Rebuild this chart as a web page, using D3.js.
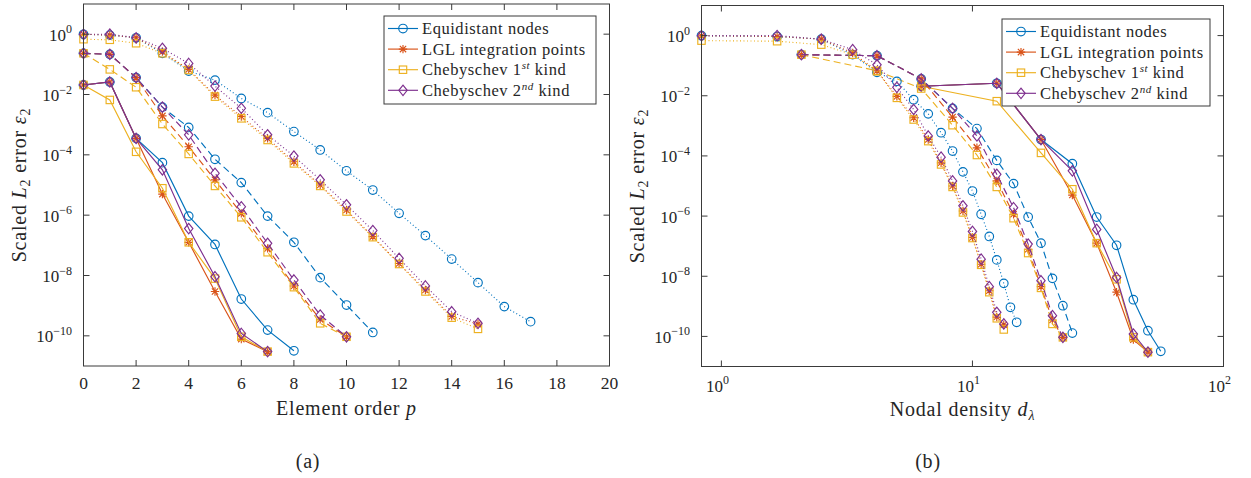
<!DOCTYPE html>
<html><head><meta charset="utf-8">
<script src="https://cdn.jsdelivr.net/npm/d3@7"></script>
<style>
body{margin:0;background:#fff;}
svg text{font-family:"Liberation Serif","Times New Roman",serif;fill:#262626;}
</style></head>
<body><svg id="c" width="1251" height="478"></svg>
<script>
// ---------- data ----------
const methods = ["Equidistant nodes","LGL integration points","Chebyschev 1st kind","Chebyschev 2nd kind"];
const colors = ["#0072BD","#D95319","#EDB120","#7E2F8E"];
const markers = ["circle","star","square","diamond"];

// element order p for each mesh (solid / dashed / dotted)
const pSolidEq = [0,1,2,3,4,5,6,7,8];
const pSolid = [0,1,2,3,4,5,6,7];
const pDashedEq = [0,1,2,3,4,5,6,7,8,9,10,11];
const pDashed = [0,1,2,3,4,5,6,7,8,9,10];
const pDottedEq = [0,1,2,3,4,5,6,7,8,9,10,11,12,13,14,15,16,17];
const pDotted = [0,1,2,3,4,5,6,7,8,9,10,11,12,13,14,15];

// nodal density d_lambda for each mesh
const dSolid = [6.25,12.5,18.75,25,31.25,37.5,43.75,50,56.25];
const dDashed = [2.083,4.167,6.25,8.333,10.42,12.5,14.58,16.67,18.75,20.83,22.92,25];
const dDotted = [0.8333,1.667,2.5,3.333,4.167,5,5.833,6.667,7.5,8.333,9.167,10,10.83,11.67,12.5,13.33,14.17,15];

// scaled L2 errors
const eqSolid   = [2.07e-2,2.6e-2,3.5e-4,5.5e-5,9.3e-7,1.07e-7,1.66e-9,1.55e-10,3.2e-11];
const lglSolid  = [2.07e-2,2.6e-2,3.5e-4,5.0e-6,1.26e-7,2.95e-9,7.8e-11,3.0e-11];
const ch1Solid  = [2.07e-2,6.6e-3,1.26e-4,7.8e-6,1.26e-7,7.9e-9,9.3e-11,3.0e-11];
const ch2Solid  = [2.07e-2,2.6e-2,3.5e-4,3.2e-5,3.6e-7,9.1e-9,1.2e-10,3.0e-11];

const eqDashed  = [0.232,0.214,3.63e-2,3.8e-3,8.1e-4,7.1e-5,1.2e-5,9.3e-7,1.26e-7,8.5e-9,1.05e-9,1.29e-10];
const lglDashed = [0.232,0.214,3.63e-2,1.95e-3,1.86e-4,1.48e-5,1.15e-6,7.9e-8,4.5e-9,3.5e-10,9.3e-11];
const ch1Dashed = [0.232,6.8e-2,1.74e-2,1.05e-3,1.07e-4,9.3e-6,8.5e-7,5.9e-8,4.1e-9,2.6e-10,9.3e-11];
const ch2Dashed = [0.232,0.214,3.63e-2,3.8e-3,4.6e-4,2.45e-5,1.9e-6,1.17e-7,7.1e-9,4.9e-10,9.3e-11];

const eqDotted  = [0.99,0.93,0.76,0.232,6.0e-2,3.0e-2,7.4e-3,2.5e-3,5.9e-4,1.45e-4,2.95e-5,6.8e-6,1.15e-6,2.1e-7,3.5e-8,5.8e-9,9.3e-10,2.95e-10];
const lglDotted = [0.99,0.93,0.76,0.263,6.8e-2,9.5e-3,1.86e-3,3.5e-4,5.9e-5,1.0e-5,1.48e-6,1.95e-7,2.5e-8,3.3e-9,4.4e-10,2.45e-10];
const ch1Dotted = [0.68,0.65,0.50,0.232,6.5e-2,8.5e-3,1.62e-3,3.1e-4,5.2e-5,9.3e-6,1.32e-6,1.86e-7,2.4e-8,2.95e-9,4.0e-10,1.7e-10];
const ch2Dotted = [0.99,1.0,0.76,0.34,0.107,1.9e-2,3.5e-3,4.6e-4,9.1e-5,1.48e-5,2.2e-6,3.1e-7,3.7e-8,4.5e-9,6.3e-10,2.6e-10];

const xTicksA = [0,2,4,6,8,10,12,14,16,18,20];
const xTicksB = [1,10,100];
const yTicks = [1e0,1e-2,1e-4,1e-6,1e-8,1e-10];

// ---------- build series ----------
const dashStyles = {solid:null, dashed:"7,4", dotted:"1,2.5"};
const groups = [
  {style:"solid",  p:[pSolidEq,pSolid,pSolid,pSolid], d:dSolid, v:[eqSolid,lglSolid,ch1Solid,ch2Solid]},
  {style:"dashed", p:[pDashedEq,pDashed,pDashed,pDashed], d:dDashed, v:[eqDashed,lglDashed,ch1Dashed,ch2Dashed]},
  {style:"dotted", p:[pDottedEq,pDotted,pDotted,pDotted], d:dDotted, v:[eqDotted,lglDotted,ch1Dotted,ch2Dotted]}
];
const series = [];
groups.forEach(g => {
  for (let m=0;m<4;m++){
    series.push({m, style:g.style,
      a: g.p[m].map((p,i)=>({x:p, y:g.v[m][i]})),
      b: g.p[m].map((p,i)=>({x:g.d[i], y:g.v[m][i]}))});
  }
});

const svg = d3.select("#c");
const axisCol = "#3a3a3a";

function drawMarker(g, type, x, y, col){
  if (type==="circle") g.append("circle").attr("cx",x).attr("cy",y).attr("r",4.3).attr("fill","none").attr("stroke",col).attr("stroke-width",1.15);
  else if (type==="square") g.append("rect").attr("x",x-3.7).attr("y",y-3.7).attr("width",7.4).attr("height",7.4).attr("fill","none").attr("stroke",col).attr("stroke-width",1.15);
  else if (type==="diamond") g.append("path").attr("d",`M${x},${y-5.2}L${x+4.2},${y}L${x},${y+5.2}L${x-4.2},${y}Z`).attr("fill","none").attr("stroke",col).attr("stroke-width",1.15);
  else if (type==="star"){
    const s=4.2;
    g.append("path").attr("d",`M${x-s},${y}H${x+s}M${x},${y-s}V${y+s}M${x-s*0.75},${y-s*0.75}L${x+s*0.75},${y+s*0.75}M${x-s*0.75},${y+s*0.75}L${x+s*0.75},${y-s*0.75}`)
      .attr("stroke",col).attr("stroke-width",1.15).attr("fill","none");
  }
}

function pow10Label(sel, exp, x, y, anchor){
  const t = sel.append("text").attr("x",x).attr("y",y).attr("text-anchor",anchor).attr("font-size",17);
  t.append("tspan").text("10");
  t.append("tspan").attr("dy",-7.5).attr("font-size",12).text(exp<0 ? "\u2212"+(-exp) : String(exp));
  return t;
}

function panel(opt){
  const {x, y0, y1, key, xTicks, xLabel, logX, legendPos, yLabelX, sub} = opt;
  const y = d3.scaleLog().domain([1e-11,1e1]).range([y1,y0]);
  const g = svg.append("g");
  const [xl,xr] = x.range();
  // series
  series.forEach(s=>{
    const pts = s[key];
    const line = d3.line().x(d=>x(d.x)).y(d=>y(d.y));
    g.append("path").attr("d",line(pts)).attr("fill","none").attr("stroke",colors[s.m])
      .attr("stroke-width",1.15).attr("stroke-dasharray",dashStyles[s.style]);
    const mg = g.append("g");
    pts.forEach(d=>drawMarker(mg, markers[s.m], x(d.x), y(d.y), colors[s.m]));
  });
  // box
  g.append("rect").attr("x",xl).attr("y",y0).attr("width",xr-xl).attr("height",y1-y0)
    .attr("fill","none").attr("stroke",axisCol).attr("stroke-width",1);
  const tl = 6;
  xTicks.forEach(t=>{
    const px = x(t);
    g.append("line").attr("x1",px).attr("x2",px).attr("y1",y1).attr("y2",y1-tl).attr("stroke",axisCol);
    g.append("line").attr("x1",px).attr("x2",px).attr("y1",y0).attr("y2",y0+tl).attr("stroke",axisCol);
    if (logX) pow10Label(g, Math.round(Math.log10(t)), px-4, y1+25, "middle");
    else g.append("text").attr("x",px).attr("y",y1+23).attr("text-anchor","middle").attr("font-size",17.5).text(t);
  });
  yTicks.forEach(t=>{
    const py = y(t);
    g.append("line").attr("x1",xl).attr("x2",xl+tl).attr("y1",py).attr("y2",py).attr("stroke",axisCol);
    g.append("line").attr("x1",xr).attr("x2",xr-tl).attr("y1",py).attr("y2",py).attr("stroke",axisCol);
    const e = Math.round(Math.log10(t));
    pow10Label(g, e, xl-11.5, py+6.5, "end");
  });
  // x label
  const xt = g.append("text").attr("x",(xl+xr)/2).attr("y",y1+49).attr("text-anchor","middle").attr("font-size",20).attr("letter-spacing",0.8);
  xt.append("tspan").text(xLabel[0]);
  xt.append("tspan").attr("font-style","italic").text(xLabel[1]);
  if (xLabel[2]) xt.append("tspan").attr("font-style","italic").attr("font-size",14).attr("dy",4).text(xLabel[2]);
  // y label
  const yc = (y0+y1)/2;
  const yt = g.append("text").attr("transform",`translate(${yLabelX},${yc}) rotate(-90)`).attr("text-anchor","middle").attr("font-size",20).attr("letter-spacing",0.8);
  yt.append("tspan").text("Scaled ");
  yt.append("tspan").attr("font-style","italic").text("L");
  yt.append("tspan").attr("font-size",14).attr("dy",4).text("2");
  yt.append("tspan").attr("dy",-4).text(" error ");
  yt.append("tspan").attr("font-style","italic").text("\u03B5");
  yt.append("tspan").attr("font-size",14).attr("dy",4).text("2");
  // subcaption
  g.append("text").attr("x",sub[0]).attr("y",468).attr("text-anchor","middle").attr("font-size",20).attr("letter-spacing",0.8).text(sub[1]);
  // legend
  const [lx,ly,lw,lh] = legendPos;
  const lg = g.append("g");
  lg.append("rect").attr("x",lx).attr("y",ly).attr("width",lw).attr("height",lh).attr("fill","#fff").attr("stroke",axisCol);
  const rows = [["Equidistant nodes"],["LGL integration points"],["Chebyschev 1","st"," kind"],["Chebyschev 2","nd"," kind"]];
  rows.forEach((r,i)=>{
    const ry = ly+12.5+i*20.6;
    lg.append("line").attr("x1",lx+4).attr("x2",lx+34).attr("y1",ry).attr("y2",ry).attr("stroke",colors[i]).attr("stroke-width",1.15);
    drawMarker(lg, markers[i], lx+19, ry, colors[i]);
    const tx = lg.append("text").attr("x",lx+38).attr("y",ry+5.5).attr("font-size",16.5).attr("letter-spacing",0.55);
    tx.append("tspan").text(r[0]);
    if (r[1]){
      tx.append("tspan").attr("dy",-6).attr("font-size",11).attr("font-style","italic").text(r[1]);
      tx.append("tspan").attr("dy",6).text(r[2]);
    }
  });
}

panel({
  x: d3.scaleLinear().domain([0,20]).range([83.5,609.5]),
  y0:4, y1:366, key:"a", xTicks:xTicksA, xLabel:["Element order ","p"], logX:false,
  legendPos:[384,16,212,88], yLabelX:26, sub:[308,"(a)"]
});
panel({
  x: d3.scaleLog().domain([0.8333,100]).range([701.5,1223.5]),
  y0:5.5, y1:366.5, key:"b", xTicks:xTicksB, xLabel:["Nodal density ","d","\u03BB"], logX:true,
  legendPos:[1002,19,208,87], yLabelX:644, sub:[928,"(b)"]
});
</script></body></html>
